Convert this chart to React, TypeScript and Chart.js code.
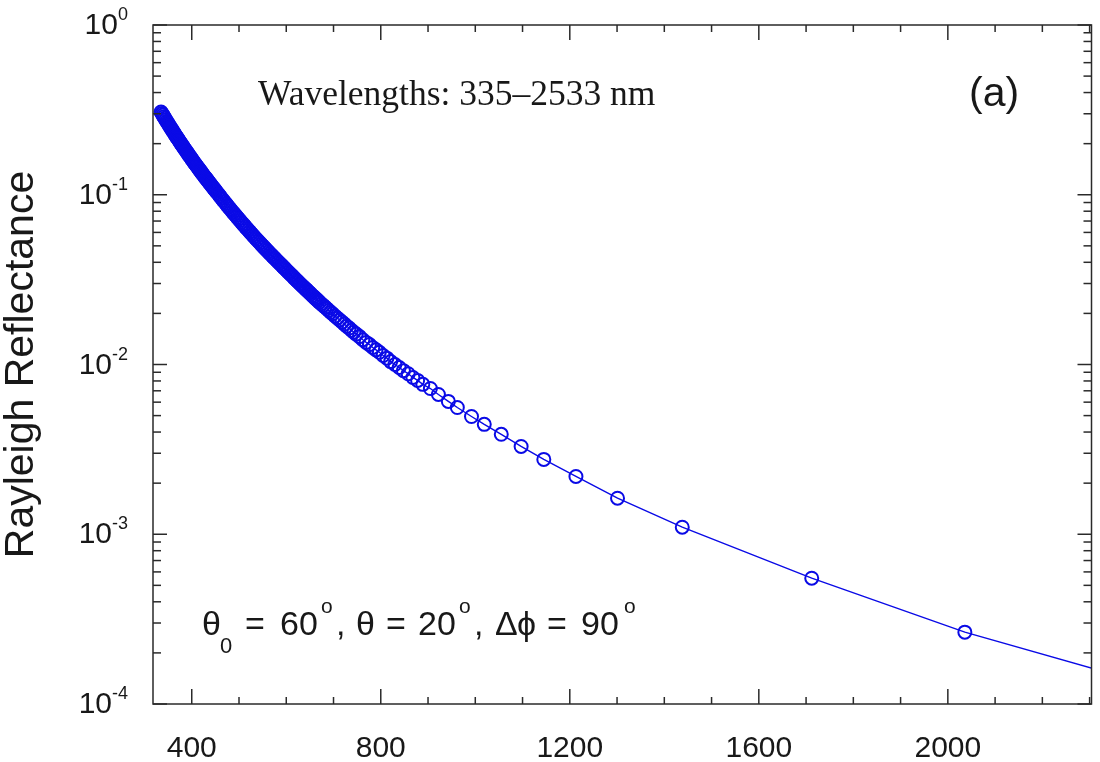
import React, { useEffect, useRef } from "react";
import { Chart, registerables } from "chart.js";

Chart.register(...registerables);

// Wavelength samples (nm)
const wavelengthsNm = [
  335, 337, 339, 341, 343, 345, 347, 349, 351, 353, 355, 357, 359, 361, 363, 365, 367, 369, 371, 373,
  375, 377, 379, 381, 383, 385, 387, 389, 391, 393, 395, 397, 399, 401, 403, 405, 407, 409, 411, 413,
  415, 417, 419, 421, 423, 425, 427, 429, 431, 433, 435, 437, 439, 441, 443, 445, 447, 449, 451,
  454, 457, 460, 463, 466, 469, 472, 475, 478, 481, 484, 487, 490, 493, 496, 499, 502, 505, 508, 511,
  514, 517, 520, 523, 526, 529, 532, 535, 538, 541, 544, 547, 550, 553, 556, 559, 562, 565, 568, 571,
  574, 577, 580, 583, 586, 589, 592, 595, 598, 601,
  604, 607, 610, 613, 616, 619, 622, 625, 628, 631, 634, 637, 640, 643, 646, 649, 652, 655, 658, 661,
  664, 667, 670,
  674, 678, 682, 686, 690, 694, 698,
  703, 708, 713, 718, 723, 728, 733, 738, 743, 748,
  755, 762, 769, 776, 783, 790, 797, 805, 813, 821, 830, 839, 848, 858, 868, 878, 889,
  905, 922, 943, 962, 992, 1019, 1055, 1097, 1145, 1213, 1301, 1438, 1712, 2036, 2450,
];

// Rayleigh reflectance at each wavelength
const reflectance = [
  0.307, 0.3008, 0.2947, 0.2885, 0.2824, 0.2762, 0.2708, 0.2654, 0.2599, 0.2545,
  0.2491, 0.2444, 0.2396, 0.2349, 0.2301, 0.2254, 0.2212, 0.217, 0.2129, 0.2087,
  0.2045, 0.2008, 0.1971, 0.1935, 0.1898, 0.1861, 0.1828, 0.1795, 0.1763, 0.173,
  0.1697, 0.1668, 0.1638, 0.1609, 0.1579, 0.155, 0.1524, 0.1498, 0.1472, 0.1446,
  0.142, 0.1397, 0.1373, 0.135, 0.1326, 0.1303, 0.1282, 0.1261, 0.1241, 0.122,
  0.1199, 0.118, 0.1161, 0.1142, 0.1123, 0.1104, 0.1087, 0.107, 0.1052,
  0.1027, 0.1002, 0.0978, 0.0954, 0.0931, 0.0909, 0.0888, 0.0866, 0.0847, 0.0827,
  0.0808, 0.0789, 0.0772, 0.0754, 0.0737, 0.0721, 0.0705, 0.0689, 0.0674, 0.066,
  0.0645, 0.0631, 0.0618, 0.0604, 0.0591, 0.0579, 0.0566, 0.0554, 0.0543, 0.0532,
  0.0521, 0.051, 0.05, 0.049, 0.048, 0.0471, 0.0461, 0.0452, 0.0443, 0.0435,
  0.0426, 0.0418, 0.041, 0.0402, 0.0395, 0.0387, 0.038, 0.0372, 0.0365, 0.0358,
  0.0351, 0.0345, 0.0338, 0.0332, 0.0325, 0.0319, 0.0313, 0.0307, 0.0301, 0.0296,
  0.029, 0.0285, 0.028, 0.0275, 0.027, 0.0265, 0.026, 0.0255, 0.0251, 0.0246,
  0.0242, 0.0238, 0.0233,
  0.0228, 0.0223, 0.0218, 0.0213, 0.0208, 0.0203, 0.0199,
  0.0193, 0.0188, 0.0183, 0.0178, 0.0173, 0.0168, 0.0164, 0.0159, 0.0155, 0.0151,
  0.0146, 0.014, 0.0135, 0.0131, 0.0126, 0.0122, 0.0118, 0.0113, 0.0109, 0.0104,
  0.01, 0.0096, 0.0092, 0.00882, 0.00839, 0.00806, 0.00764,
  0.00722, 0.00666, 0.00606, 0.00558, 0.00494, 0.00444, 0.00388, 0.00329, 0.00276,
  0.00219, 0.00163, 0.0011, 0.000551, 0.000265, 0.000125,
];

const xMajorTicks = [400, 800, 1200, 1600, 2000];
const xMinorTicks = [400, 500, 600, 700, 800, 900, 1000, 1100, 1200, 1300, 1400, 1500, 1600, 1700, 1800, 1900, 2000, 2100, 2200, 2300];
const yDecadeExponents = [0, -1, -2, -3, -4];
const yMinorFactors = [2, 3, 4, 5, 6, 7, 8, 9];

const X_MIN = 318;
const X_MAX = 2304;
const Y_MIN = 1e-4;
const Y_MAX = 1;

const yTitle = "Rayleigh Reflectance";
const topNote = "Wavelengths: 335\u20132533 nm";
const panelLabel = "(a)";

const BLUE = "rgb(10,10,230)";
const INK = "#181818";
const SANS = '"Liberation Sans", Arial, Helvetica, sans-serif';
const SERIF = '"Liberation Serif", "Times New Roman", Times, serif';

const framePlugin = {
  id: "frameTicksLabels",
  afterDraw(chart: any) {
    const { ctx, chartArea: a, scales } = chart;
    const xs = scales.x;
    const ys = scales.y;
    ctx.save();
    ctx.strokeStyle = "#2a2a2a";
    ctx.lineWidth = 1.5;
    ctx.strokeRect(a.left, a.top, a.right - a.left, a.bottom - a.top);
    const line = (x1: number, y1: number, x2: number, y2: number) => {
      ctx.beginPath();
      ctx.moveTo(x1, y1);
      ctx.lineTo(x2, y2);
      ctx.stroke();
    };
    // x ticks (inward, bottom and top)
    xMinorTicks.forEach((v) => {
      const px = xs.getPixelForValue(v);
      const len = xMajorTicks.includes(v) ? 15 : 7;
      line(px, a.bottom, px, a.bottom - len);
      line(px, a.top, px, a.top + len);
    });
    // y ticks (inward, left and right)
    yDecadeExponents.forEach((e) => {
      const py = ys.getPixelForValue(Math.pow(10, e));
      line(a.left, py, a.left + 14, py);
      line(a.right, py, a.right - 14, py);
      if (e < 0) {
        yMinorFactors.forEach((k) => {
          const pm = ys.getPixelForValue(k * Math.pow(10, e));
          line(a.left, pm, a.left + 8, pm);
          line(a.right, pm, a.right - 8, pm);
        });
      }
    });

    ctx.fillStyle = INK;
    ctx.textBaseline = "alphabetic";
    // x tick labels
    ctx.font = `30px ${SANS}`;
    ctx.textAlign = "center";
    xMajorTicks.forEach((v) => {
      ctx.fillText(String(v), xs.getPixelForValue(v), a.bottom + 53);
    });
    // y tick labels 10^e
    ctx.textAlign = "left";
    yDecadeExponents.forEach((e) => {
      const py = ys.getPixelForValue(Math.pow(10, e));
      const sup = String(e);
      ctx.font = `18px ${SANS}`;
      const sw = ctx.measureText(sup).width;
      ctx.font = `30px ${SANS}`;
      const mw = ctx.measureText("10").width;
      const right = a.left - 25;
      ctx.fillText("10", right - sw - mw, py + 9);
      ctx.font = `18px ${SANS}`;
      ctx.fillText(sup, right - sw, py - 5);
    });
    // y axis title
    ctx.save();
    ctx.translate(33, (a.top + a.bottom) / 2);
    ctx.rotate(-Math.PI / 2);
    ctx.font = `41px ${SANS}`;
    ctx.textAlign = "center";
    ctx.fillText(yTitle, 0, 0);
    ctx.restore();

    // annotations
    ctx.textAlign = "left";
    ctx.font = `35.5px ${SERIF}`;
    ctx.fillText(topNote, 258, 105);
    ctx.font = `41px ${SANS}`;
    ctx.fillText(panelLabel, 969, 106);

    const main = `34px ${SANS}`;
    const sub = `22px ${SANS}`;
    const sup2 = `21px ${SANS}`;
    const base = 635;
    const parts: [string, string, number, number][] = [
      ["\u03b8", main, 202, base],
      ["0", sub, 220, base + 18],
      ["=", main, 245, base],
      ["60", main, 280, base],
      ["o", sup2, 321, base - 22],
      [",", main, 336, base],
      ["\u03b8", main, 356, base],
      ["=", main, 386, base],
      ["20", main, 418, base],
      ["o", sup2, 459, base - 22],
      [",", main, 474, base],
      ["\u0394", main, 495, base],
      ["\u03d5", main, 517, base],
      ["=", main, 547, base],
      ["90", main, 581, base],
      ["o", sup2, 624, base - 22],
    ];
    parts.forEach(([t, f, x, y]) => {
      ctx.font = f;
      ctx.fillText(t, x, y);
    });
    ctx.restore();
  },
};

export default function App() {
  const canvasRef = useRef<HTMLCanvasElement | null>(null);

  useEffect(() => {
    document.documentElement.style.overflow = "hidden";
    document.body.style.margin = "0";
    document.body.style.overflow = "hidden";
    const canvas = canvasRef.current;
    if (!canvas) return;
    const points = wavelengthsNm.map((x, i) => ({ x, y: reflectance[i] }));
    const chart = new Chart(canvas, {
      type: "line",
      data: {
        datasets: [
          {
            data: points,
            borderColor: BLUE,
            borderWidth: 1.4,
            pointRadius: 6.5,
            pointBorderWidth: 2,
            pointBorderColor: BLUE,
            pointBackgroundColor: "rgba(0,0,0,0)",
            pointStyle: "circle",
            fill: false,
            tension: 0,
            clip: 0,
          } as any,
        ],
      },
      options: {
        animation: false,
        responsive: false,
        maintainAspectRatio: false,
        devicePixelRatio: 1,
        events: [],
        layout: { padding: { left: 153, right: 2, top: 25, bottom: 58 } },
        scales: {
          x: { type: "linear", display: false, min: X_MIN, max: X_MAX },
          y: { type: "logarithmic", display: false, min: Y_MIN, max: Y_MAX },
        },
        plugins: {
          legend: { display: false },
          tooltip: { enabled: false },
          title: { display: false },
        },
      },
      plugins: [framePlugin],
    });
    return () => chart.destroy();
  }, []);

  return (
    <div style={{ width: 1100, height: 762, background: "#fff", overflow: "hidden" }}>
      <canvas ref={canvasRef} width={1100} height={762} style={{ display: "block" }} />
    </div>
  );
}
